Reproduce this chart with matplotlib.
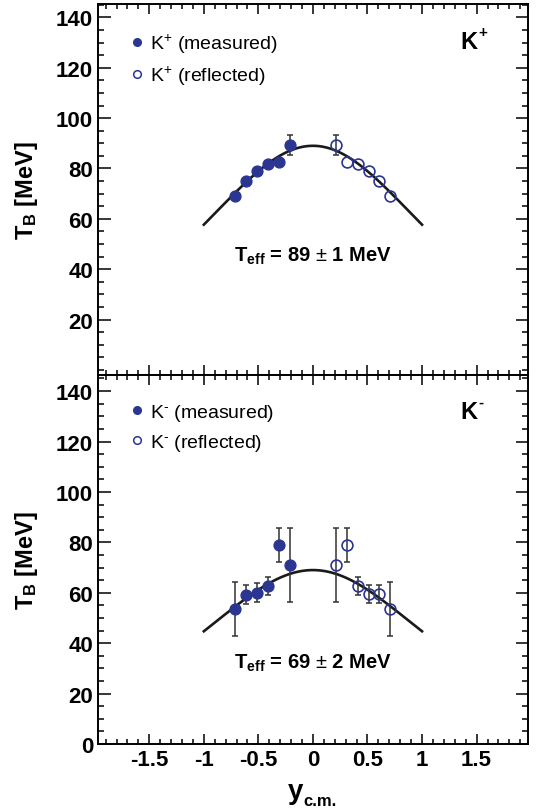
import numpy as np
import matplotlib
matplotlib.use("Agg")
import matplotlib.pyplot as plt
from matplotlib.lines import Line2D
from matplotlib.ticker import MultipleLocator

plt.rcParams["font.family"] = ["Liberation Sans", "DejaVu Sans"]
plt.rcParams["mathtext.fontset"] = "custom"
plt.rcParams["mathtext.rm"] = "Liberation Sans"
plt.rcParams["mathtext.bf"] = "Liberation Sans:bold"
plt.rcParams["mathtext.it"] = "Liberation Sans:italic"

# K+ datos
y_kp_meas = [-0.71, -0.61, -0.51, -0.41, -0.31, -0.21]
T_kp_meas = [69.0, 75.0, 79.0, 81.7, 82.5, 89.3]
dT_kp_meas = [1.0, 1.0, 1.0, 1.0, 1.0, 3.8]
y_kp_refl = [0.21, 0.31, 0.41, 0.51, 0.61, 0.71]
T_kp_refl = [89.3, 82.5, 81.7, 79.0, 75.0, 69.0]
dT_kp_refl = [3.8, 1.0, 1.0, 1.0, 1.0, 1.0]
Teff_kp = 89

# K- datos
y_km_meas = [-0.71, -0.61, -0.51, -0.41, -0.31, -0.21]
T_km_meas = [53.6, 59.2, 60.0, 62.8, 79.0, 71.0]
dT_km_meas = [10.7, 3.7, 3.7, 3.5, 6.8, 14.5]
y_km_refl = [0.21, 0.31, 0.41, 0.51, 0.61, 0.71]
T_km_refl = [71.0, 79.0, 62.8, 59.5, 59.5, 53.6]
dT_km_refl = [14.5, 6.8, 3.5, 3.7, 3.7, 10.7]
Teff_km = 69

azul = "#2b3592"
fig = plt.figure(figsize=(5.37, 8.12), dpi=100)
ax1 = fig.add_axes([0.1825, 0.537, 0.8005, 0.4565])
ax2 = fig.add_axes([0.1825, 0.0825, 0.8005, 0.4545])


def barras(ax, y, T, dT):
    # solo se ven las barras que salen del marcador
    y, T, dT = np.array(y), np.array(T), np.array(dT)
    m = dT > 2
    ax.errorbar(y[m], T[m], yerr=dT[m], fmt="none", ecolor="#333333",
                elinewidth=1.1, capsize=2.5, capthick=1.1, zorder=2.5)


def panel(ax, ym, Tm, dTm, yr, Tr, dTr, teff, dteff, part, ylim, ytxt):
    yy = np.linspace(-1, 1, 200)
    ax.plot(yy, teff / np.cosh(yy), color="#1a1a1a", lw=1.9, zorder=2)
    barras(ax, ym, Tm, dTm)
    barras(ax, yr, Tr, dTr)
    ax.plot(ym, Tm, "o", color=azul, ms=7.8, zorder=3)
    ax.plot(yr, Tr, "o", mfc="none", mec=azul, mew=1.2, ms=7.8, zorder=3)
    ax.set_xlim(-1.97, 1.97)
    ax.set_ylim(*ylim)
    ax.xaxis.set_major_locator(MultipleLocator(0.5))
    ax.xaxis.set_minor_locator(MultipleLocator(0.1))
    ax.yaxis.set_minor_locator(MultipleLocator(5))
    ax.tick_params(which="both", direction="in", top=True, right=True, width=1.1)
    ax.tick_params(axis="y", which="major", length=9)
    ax.tick_params(axis="y", which="minor", length=4.5)
    ax.tick_params(axis="x", which="major", length=7)
    ax.tick_params(axis="x", which="minor", length=3.5)
    ax.tick_params(labelsize=16)
    for s in ax.spines.values():
        s.set_linewidth(1.4)
    ax.set_ylabel(r"$\mathbf{T_{B}}$ [MeV]", fontsize=17, fontweight="bold")
    ax.yaxis.set_label_coords(-0.135, 0.5)
    ax.text(0.5, ytxt, r"$\mathbf{T_{eff}}$ = %d $\pm$ %d MeV" % (teff, dteff),
            transform=ax.transAxes, ha="center", va="center",
            fontsize=14.5, fontweight="bold")
    ax.text(0.883, 0.9, "K", transform=ax.transAxes, ha="right", va="center",
            fontsize=17, fontweight="bold")
    ax.annotate(part, xy=(0.883, 0.9), xycoords="axes fraction", xytext=(0.3, 2),
                textcoords="offset points", ha="left", va="bottom",
                fontsize=11, fontweight="bold")
    h = [Line2D([], [], ls="none", marker="o", color=azul, ms=5.5),
         Line2D([], [], ls="none", marker="o", mfc="none", mec=azul, mew=1.1, ms=5.5)]
    ax.legend(h, ["K$^{%s}$ (measured)" % part, "K$^{%s}$ (reflected)" % part],
              loc="upper left", bbox_to_anchor=(0.05, 0.947), frameon=False,
              fontsize=14, handletextpad=0.15, labelspacing=0.45,
              handlelength=1.0, borderaxespad=0)


panel(ax1, y_kp_meas, T_kp_meas, dT_kp_meas, y_kp_refl, T_kp_refl, dT_kp_refl,
      Teff_kp, 1, "+", (-2, 145.2), 0.324)
panel(ax2, y_km_meas, T_km_meas, dT_km_meas, y_km_refl, T_km_refl, dT_km_refl,
      Teff_km, 2, "\u2010", (0, 146.4), 0.22)

ax1.set_yticks(np.arange(20, 141, 20))
ax2.set_yticks(np.arange(0, 141, 20))
ax1.tick_params(labelbottom=False)
ax2.set_xticks([-1.5, -1, -0.5, 0, 0.5, 1, 1.5])
ax2.set_xticklabels(["-1.5", "-1", "-0.5", "0", "0.5", "1", "1.5"])
for lab in ax1.get_yticklabels() + ax2.get_yticklabels() + ax2.get_xticklabels():
    lab.set_fontweight("bold")

# etiqueta del eje x: y con subindice c.m.
ax2.text(0.478, -0.092, "y", transform=ax2.transAxes, ha="right", va="top",
         fontsize=20, fontweight="bold")
ax2.text(0.478, -0.132, "c.m.", transform=ax2.transAxes, ha="left", va="top",
         fontsize=12, fontweight="bold")

fig.savefig("out.png", dpi=100)
